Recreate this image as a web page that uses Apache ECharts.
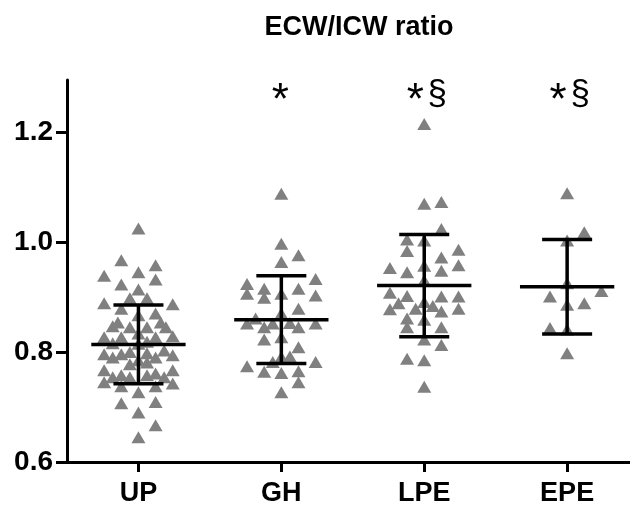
<!DOCTYPE html>
<html>
<head>
<meta charset="utf-8">
<script src="https://cdn.jsdelivr.net/npm/echarts@6/dist/echarts.min.js"></script>
<style>
  html, body { margin: 0; padding: 0; background: #fff; }
  #chart { width: 630px; height: 507px; }
</style>
</head>
<body>
<div id="chart"></div>
<script>
const categories = ['UP', 'GH', 'LPE', 'EPE'];
const annotations = ['', '*', '*§', '*§'];
const means = [0.814, 0.859, 0.921, 0.919];
const sds = [0.0715, 0.080, 0.093, 0.086];
const yTicks = [0.6, 0.8, 1.0, 1.2];

// [column offset, value] per group, column offsets
const upPoints = [
  [0, 1.025], [-1, 0.967], [1, 0.958], [-2, 0.939], [0, 0.945], [1, 0.932], [-1, 0.923], [0, 0.914],
  [-0.5, 0.898], [0.5, 0.898], [-2, 0.889], [2, 0.887], [-1, 0.879], [1, 0.870], [0, 0.867],
  [-1.5, 0.847], [-1.2, 0.854], [-0.5, 0.845], [0.5, 0.845], [1.3, 0.854], [1.6, 0.845],
  [-2, 0.827], [-1, 0.827], [0, 0.834], [1, 0.827], [2, 0.829], [-1.5, 0.816], [0.5, 0.819], [0, 0.815],
  [-2, 0.796], [-1.5, 0.790], [-1, 0.796], [-0.5, 0.800], [0.5, 0.798], [1, 0.790], [2, 0.794], [1.5, 0.803],
  [-0.5, 0.778], [0.5, 0.781], [0, 0.785], [-2, 0.767], [-1, 0.758], [-1.5, 0.754], [1, 0.761],
  [1.5, 0.754], [2, 0.767], [-0.5, 0.754], [0.5, 0.758], [-2, 0.745], [2, 0.743], [-1, 0.738],
  [1, 0.738], [0, 0.727], [-1, 0.707], [1, 0.709], [0, 0.690], [1, 0.667], [0, 0.645]
];
const ghPoints = [
  [0, 1.088], [0, 0.997], [1, 0.976], [0, 0.964], [2, 0.933], [-2, 0.924], [-2, 0.906], [-1, 0.915],
  [-1, 0.899], [1, 0.915], [0, 0.906], [2, 0.903], [1, 0.879], [0, 0.870], [-2, 0.852], [-1.5, 0.861],
  [-1, 0.845], [-0.5, 0.852], [0.5, 0.853], [1, 0.845], [2, 0.852], [0, 0.827], [-1, 0.823], [1, 0.809],
  [0, 0.791], [0.5, 0.792], [-0.5, 0.782], [-2, 0.774], [2, 0.782], [-1, 0.764], [0, 0.762], [1, 0.765],
  [1, 0.745], [0, 0.727]
];
const lpePoints = [
  [0, 1.215], [0, 1.070], [1, 1.073], [1, 1.024], [-1, 1.005], [0, 1.003], [-1, 0.984], [2, 0.986],
  [1, 0.972], [0, 0.957], [2, 0.958], [-2, 0.953], [-1, 0.945], [1, 0.948], [0, 0.930], [-2, 0.908],
  [-1, 0.902], [1, 0.901], [2, 0.901], [-1.5, 0.889], [0, 0.891], [-2, 0.878], [-0.5, 0.879],
  [0.5, 0.884], [1, 0.874], [2, 0.879], [-1, 0.861], [0, 0.859], [-1, 0.845], [1, 0.845], [0, 0.823],
  [1, 0.813], [-1, 0.788], [0, 0.785], [0, 0.737]
];
const epePoints = [
  [0, 1.089], [1, 1.018], [0, 1.003], [0, 0.925], [-1, 0.901], [2, 0.911], [0, 0.886], [1, 0.889],
  [-1, 0.844], [0, 0.841], [0, 0.798]
];

const groups = [upPoints, ghPoints, lpePoints, epePoints];
const colStep = 0.12;
const annoY = 1.27;

const scatterData = [];
groups.forEach((pts, gi) => {
  pts.forEach((p) => scatterData.push([gi + p[0] * colStep, p[1]]));
});

const chart = echarts.init(document.getElementById('chart'), null, { renderer: 'canvas' });
const font = 'Liberation Sans, Arial, sans-serif';

chart.setOption({
  animation: false,
  title: {
    text: 'ECW/ICW ratio',
    left: 354, top: 9, textAlign: 'center',
    textStyle: { fontFamily: font, fontWeight: 'bold', fontSize: 27, color: '#000' }
  },
  grid: { left: 67, right: 0, top: 80, bottom: 45 },
  xAxis: {
    type: 'value', min: -0.5, max: 3.44,
    splitLine: { show: false },
    axisLine: { onZero: false, lineStyle: { color: '#000', width: 3 } },
    axisTick: { customValues: [0, 1, 2, 3], length: 10, lineStyle: { color: '#000', width: 3 } },
    axisLabel: {
      customValues: [0, 1, 2, 3], margin: 18,
      formatter: (v) => categories[Math.round(v)] || '',
      fontFamily: font, fontWeight: 'bold', fontSize: 27, color: '#000'
    }
  },
  yAxis: {
    type: 'value', min: 0.6, max: 1.295,
    splitLine: { show: false },
    axisLine: { show: true, onZero: false, lineStyle: { color: '#000', width: 3 } },
    axisTick: { show: true, customValues: yTicks, length: 11, lineStyle: { color: '#000', width: 3 } },
    axisLabel: {
      customValues: yTicks, margin: 14,
      formatter: (v) => v.toFixed(1),
      fontFamily: font, fontWeight: 'bold', fontSize: 28, color: '#000'
    }
  },
  series: [
    {
      type: 'scatter',
      data: scatterData,
      symbol: 'triangle',
      symbolSize: [14, 12],
      itemStyle: { color: '#808080', opacity: 1 },
      silent: true
    },
    {
      type: 'custom',
      data: means.map((m, i) => [i, m, sds[i]]),
      renderItem: (params, api) => {
        const x = api.value(0), m = api.value(1), s = api.value(2);
        const c = api.coord([x, m]);
        const hi = api.coord([x, m + s]);
        const lo = api.coord([x, m - s]);
        const half = api.size([0.33, 0])[0];
        const cap = api.size([0.175, 0])[0];
        const st = { stroke: '#000', lineWidth: 3.5 };
        return {
          type: 'group',
          children: [
            { type: 'line', shape: { x1: c[0] - half, y1: c[1], x2: c[0] + half, y2: c[1] }, style: st },
            { type: 'line', shape: { x1: c[0], y1: hi[1], x2: c[0], y2: lo[1] }, style: st },
            { type: 'line', shape: { x1: c[0] - cap, y1: hi[1], x2: c[0] + cap, y2: hi[1] }, style: st },
            { type: 'line', shape: { x1: c[0] - cap, y1: lo[1], x2: c[0] + cap, y2: lo[1] }, style: st }
          ]
        };
      },
      z: 5
    },
    {
      type: 'custom',
      data: annotations.map((a, i) => [i, annoY]),
      silent: true,
      renderItem: (params, api) => {
        const p = api.coord([api.value(0), api.value(1)]);
        const txt = annotations[params.dataIndex];
        const children = [];
        const hasSec = txt.indexOf('§') >= 0;
        if (txt.indexOf('*') >= 0) {
          children.push({
            type: 'text', x: p[0] + (hasSec ? -9 : -1), y: p[1] + 8,
            style: { text: '*', fontFamily: font, fontSize: 44, fill: '#000', align: 'center', verticalAlign: 'middle' }
          });
        }
        if (hasSec) {
          children.push({
            type: 'text', x: p[0] + 13, y: p[1] + 2,
            style: { text: '§', fontFamily: font, fontSize: 35, fill: '#000', align: 'center', verticalAlign: 'middle' }
          });
        }
        return { type: 'group', children };
      }
    }
  ]
});
</script>
</body>
</html>
